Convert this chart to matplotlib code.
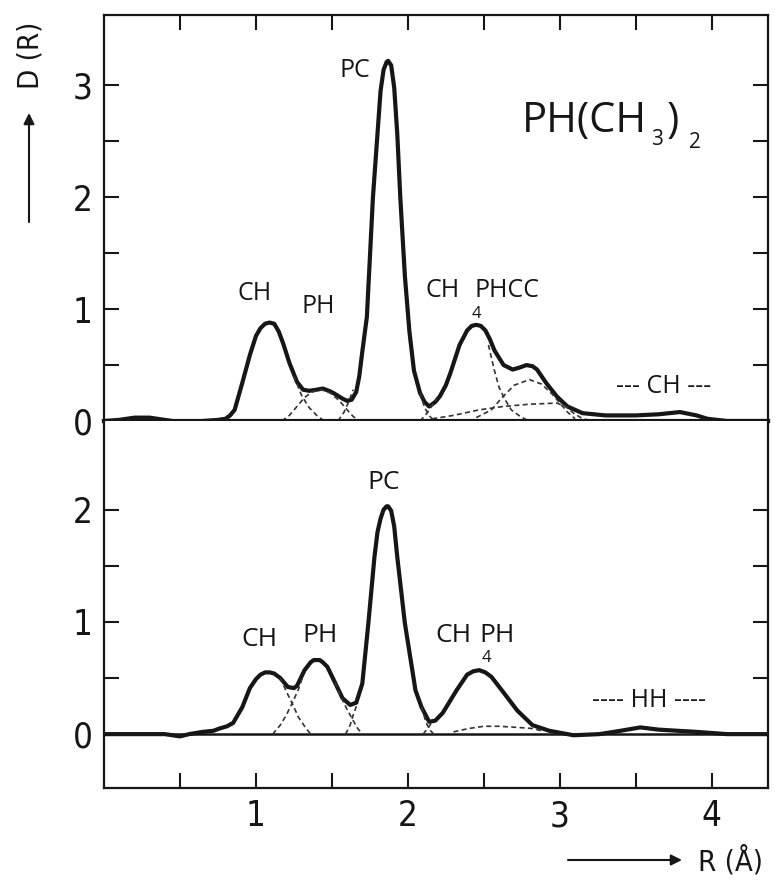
import matplotlib
matplotlib.use("Agg")
import matplotlib.pyplot as plt

# ---- data: radial distribution D(R) of PH(CH3)2 ----
# upper panel, total curve
top_r = [0.00, 0.10, 0.20, 0.30, 0.40, 0.50, 0.57, 0.65, 0.75, 0.80, 0.83, 0.86,
         0.91, 0.96, 1.00, 1.03, 1.06, 1.09, 1.12, 1.15, 1.18, 1.22, 1.27, 1.31,
         1.35, 1.40, 1.44, 1.48, 1.51, 1.57, 1.60, 1.63, 1.66, 1.68, 1.70, 1.73,
         1.77, 1.80, 1.82, 1.84, 1.86, 1.87, 1.89, 1.91, 1.93, 1.95, 1.98, 2.01,
         2.04, 2.08, 2.11, 2.14, 2.18, 2.21, 2.25, 2.28, 2.34, 2.39, 2.42, 2.45,
         2.48, 2.51, 2.54, 2.57, 2.63, 2.69, 2.74, 2.78, 2.82, 2.85, 2.91, 2.98,
         3.05, 3.15, 3.30, 3.50, 3.65, 3.79, 3.90, 3.97, 4.10, 4.37]
top_d = [0.00, 0.01, 0.03, 0.03, 0.01, -0.01, -0.02, 0.00, 0.01, 0.02, 0.05, 0.10,
         0.34, 0.59, 0.76, 0.83, 0.87, 0.88, 0.87, 0.80, 0.69, 0.52, 0.35, 0.28,
         0.27, 0.28, 0.29, 0.27, 0.25, 0.20, 0.18, 0.19, 0.26, 0.40, 0.62, 0.93,
         2.00, 2.57, 2.95, 3.14, 3.21, 3.22, 3.18, 2.98, 2.57, 2.00, 1.30, 0.80,
         0.45, 0.25, 0.17, 0.13, 0.17, 0.22, 0.32, 0.43, 0.68, 0.81, 0.85, 0.86,
         0.85, 0.81, 0.73, 0.63, 0.50, 0.46, 0.48, 0.50, 0.49, 0.46, 0.34, 0.22,
         0.13, 0.07, 0.05, 0.05, 0.06, 0.08, 0.05, 0.02, 0.00, 0.00]

# upper panel, fitted components (dashed, only where they leave the total)
top_parts = [
    ([1.25, 1.30, 1.35, 1.40, 1.45], [0.40, 0.23, 0.12, 0.05, 0.00]),              # CH
    ([1.17, 1.22, 1.27, 1.32, 1.37, 1.43, 1.49, 1.55, 1.60, 1.64, 1.68],
     [0.00, 0.05, 0.13, 0.21, 0.26, 0.28, 0.25, 0.18, 0.10, 0.04, 0.00]),          # PH
    ([1.54, 1.58, 1.61, 1.64], [0.00, 0.08, 0.17, 0.28]),                          # PC left
    ([2.08, 2.11, 2.14, 2.17], [0.25, 0.12, 0.05, 0.00]),                          # PC right
    ([2.08, 2.12, 2.15, 2.19], [0.00, 0.06, 0.12, 0.20]),                          # CH4 left
    ([2.53, 2.57, 2.60, 2.64, 2.68, 2.73, 2.78],
     [0.68, 0.45, 0.30, 0.19, 0.10, 0.05, 0.01]),                                  # CH4 right
    ([2.45, 2.55, 2.62, 2.70, 2.80, 2.88, 2.95, 3.00, 3.05, 3.10],
     [0.03, 0.10, 0.21, 0.32, 0.37, 0.33, 0.24, 0.16, 0.08, 0.02]),                # PH
    ([2.16, 2.30, 2.47, 2.63, 2.80, 2.98, 3.04, 3.09, 3.15, 3.22],
     [0.02, 0.05, 0.10, 0.13, 0.15, 0.16, 0.13, 0.07, 0.02, 0.00]),                # CC
]

# lower panel, total curve
bot_r = [0.00, 0.20, 0.40, 0.50, 0.56, 0.65, 0.72, 0.76, 0.81, 0.85, 0.91, 0.96,
         1.00, 1.03, 1.06, 1.09, 1.12, 1.16, 1.21, 1.25, 1.27, 1.32, 1.36, 1.38,
         1.40, 1.42, 1.44, 1.47, 1.52, 1.57, 1.62, 1.66, 1.70, 1.74, 1.78, 1.80,
         1.82, 1.84, 1.86, 1.87, 1.89, 1.91, 1.93, 1.98, 2.05, 2.09, 2.14, 2.18,
         2.23, 2.32, 2.39, 2.43, 2.47, 2.51, 2.55, 2.63, 2.72, 2.82, 2.93, 3.09,
         3.26, 3.40, 3.53, 3.65, 3.90, 4.10, 4.37]
bot_d = [0.00, 0.00, 0.00, -0.02, 0.00, 0.02, 0.03, 0.05, 0.07, 0.10, 0.24, 0.41,
         0.49, 0.53, 0.55, 0.55, 0.54, 0.50, 0.42, 0.41, 0.43, 0.57, 0.64, 0.66,
         0.66, 0.66, 0.64, 0.60, 0.46, 0.32, 0.26, 0.28, 0.45, 0.99, 1.58, 1.80,
         1.92, 2.00, 2.03, 2.03, 1.99, 1.85, 1.58, 0.99, 0.39, 0.24, 0.11, 0.12,
         0.19, 0.39, 0.53, 0.56, 0.57, 0.55, 0.51, 0.37, 0.21, 0.08, 0.03, -0.01,
         0.00, 0.03, 0.06, 0.04, 0.02, 0.00, 0.00]

bot_parts = [
    ([1.16, 1.20, 1.24, 1.28, 1.32, 1.36], [0.50, 0.38, 0.27, 0.15, 0.07, 0.00]),  # CH
    ([1.11, 1.16, 1.20, 1.24, 1.28, 1.31], [0.00, 0.08, 0.17, 0.28, 0.40, 0.52]),  # PH left
    ([1.52, 1.56, 1.60, 1.64, 1.67, 1.70], [0.46, 0.33, 0.22, 0.12, 0.05, 0.00]),  # PH right
    ([1.59, 1.62, 1.64, 1.67], [0.00, 0.08, 0.17, 0.28]),                          # PC left
    ([2.09, 2.12, 2.15, 2.17], [0.24, 0.10, 0.03, 0.00]),                          # PC right
    ([2.10, 2.13, 2.16], [0.00, 0.05, 0.11]),                                      # CH4 left
    ([2.30, 2.40, 2.50, 2.60, 2.72, 2.82, 2.88],
     [0.02, 0.05, 0.07, 0.07, 0.06, 0.05, 0.03]),                                  # PH
]

ink = "#161616"
label_font = "Open Sans"
tick_font = dict(family="DejaVu Sans", stretch="condensed", size=25)

fig = plt.figure(figsize=(7.75, 8.82), dpi=100)
ax1 = fig.add_axes([104 / 775, 1 - 421 / 882, 664 / 775, 406 / 882])
ax2 = fig.add_axes([104 / 775, 1 - 788 / 882, 664 / 775, 367 / 882])

for ax in (ax1, ax2):
    ax.set_xlim(0, 4.37)
    for s in ax.spines.values():
        s.set_linewidth(1.6)
        s.set_color(ink)
    ax.tick_params(which="both", direction="in", length=11, width=1.5, color=ink,
                   pad=8, labelcolor=ink)
    ax.set_xticks([1, 2, 3, 4])
    ax.set_xticks([0.5, 1.5, 2.5, 3.5], minor=True)

# upper panel
ax1.set_ylim(0, 3.63)
ax1.set_yticks([0, 1, 2, 3])
ax1.set_yticks([0.5, 1.5, 2.5], minor=True)
ax1.tick_params(which="both", top=True, bottom=False, labelbottom=False,
                left=True, right=True)
ax1.spines["bottom"].set_linewidth(3)
ax1.plot(top_r, top_d, color=ink, lw=3.0, solid_joinstyle="round", clip_on=False)
for r, d in top_parts:
    ax1.plot(r, d, color="#333333", lw=1.2, dashes=(3, 2))

# lower panel
ax2.set_ylim(-0.48, 2.79)
ax2.set_yticks([0, 1, 2])
ax2.set_yticks([0.5, 1.5], minor=True)
ax2.tick_params(which="both", top=False, bottom=True, left=True, right=True)
ax2.spines["top"].set_visible(False)
ax2.axhline(0, color=ink, lw=1.8)
ax2.plot(bot_r, bot_d, color=ink, lw=3.0, solid_joinstyle="round")
for r, d in bot_parts:
    ax2.plot(r, d, color="#333333", lw=1.2, dashes=(3, 2))

for ax in (ax1, ax2):
    for lab in ax.get_xticklabels() + ax.get_yticklabels():
        lab.set_fontproperties(tick_font)

# peak labels, upper
kw = dict(family=label_font, color=ink, ha="center", va="center")
ax1.text(1.65, 3.13, "PC", size=18, **kw)
ax1.text(0.99, 1.14, "CH", size=18, **kw)
ax1.text(1.41, 1.02, "PH", size=18, **kw)
ax1.text(2.23, 1.17, "CH", size=18, **kw)
ax1.text(2.45, 0.96, "4", size=12, **kw)
ax1.text(2.65, 1.17, "PHCC", size=18, **kw)
ax1.text(3.68, 0.31, "--- CH ---", size=18, **kw)
kw_l = dict(family=label_font, color=ink, ha="left", va="baseline")
ax1.text(2.75, 2.58, "PH(CH", size=30, **kw_l)
ax1.text(3.60, 2.47, "3", size=15, **kw_l)
ax1.text(3.70, 2.58, ")", size=30, **kw_l)
ax1.text(3.85, 2.44, "2", size=15, **kw_l)

# peak labels, lower
ax2.text(1.84, 2.24, "PC", size=19, **kw)
ax2.text(1.02, 0.84, "CH", size=19, **kw)
ax2.text(1.42, 0.88, "PH", size=19, **kw)
ax2.text(2.30, 0.875, "CH", size=19, **kw)
ax2.text(2.52, 0.68, "4", size=12, **kw)
ax2.text(2.59, 0.875, "PH", size=19, **kw)
ax2.text(3.59, 0.30, "---- HH ----", size=18, **kw)

# axis labels with arrows
fig.text(30 / 775, 1 - 55 / 882, "D (R)", rotation=90, ha="center", va="center",
         family="DejaVu Sans", stretch="condensed", size=21, color=ink)
fig.text(731 / 775, 1 - 861 / 882, "R (Å)", ha="center", va="center",
         family="DejaVu Sans", stretch="condensed", size=21, color=ink)
arrow = dict(arrowstyle="-|>", color=ink, lw=1.5, mutation_scale=16,
             shrinkA=0, shrinkB=0)
fig.add_artist(matplotlib.patches.FancyArrowPatch(
    (29 / 775, 1 - 222 / 882), (29 / 775, 1 - 113 / 882),
    transform=fig.transFigure, **arrow))
fig.add_artist(matplotlib.patches.FancyArrowPatch(
    (568 / 775, 1 - 860 / 882), (682 / 775, 1 - 860 / 882),
    transform=fig.transFigure, **arrow))

fig.savefig("out.png", dpi=100)
